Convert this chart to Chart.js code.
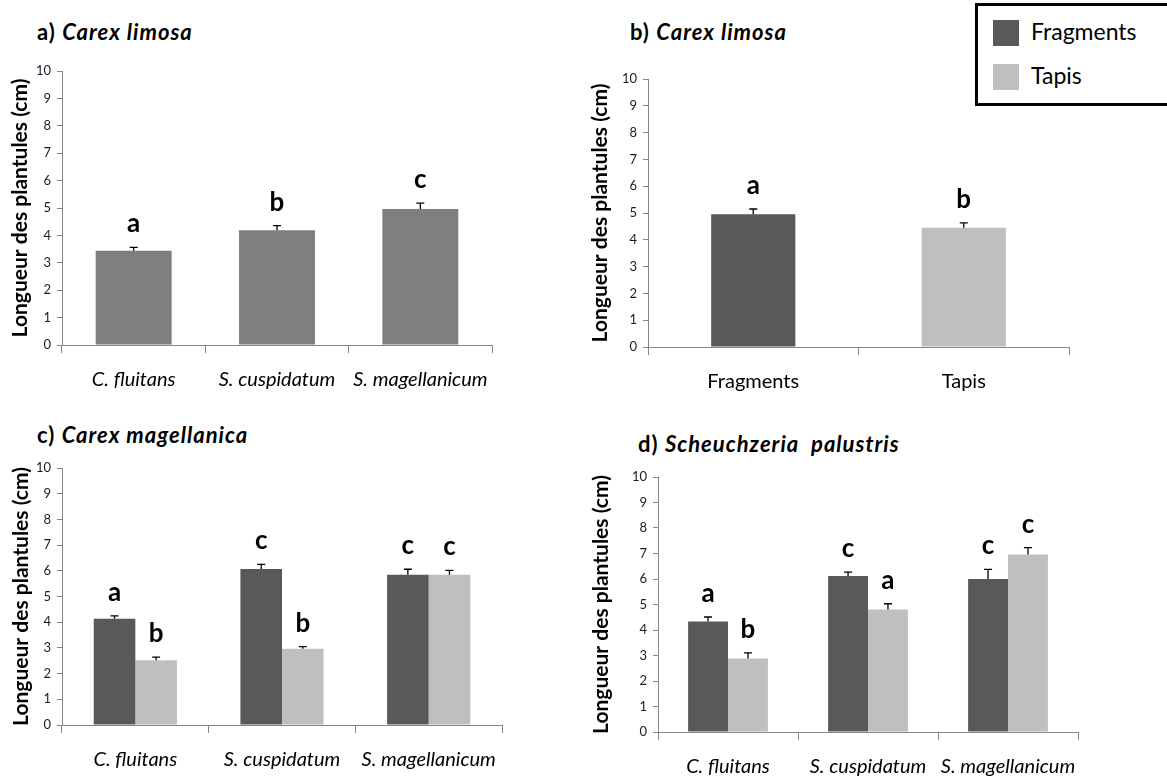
<!DOCTYPE html>
<html>
<head>
<meta charset="utf-8">
<script src="https://cdn.jsdelivr.net/npm/chart.js@4/dist/chart.umd.min.js"></script>
<style>
    body { margin: 0; width: 1167px; height: 776px; background: #fff; position: relative; overflow: hidden; font-family: Lato, sans-serif; }
    canvas { position: absolute; }
    .title { position: absolute; font-weight: bold; font-size: 22px; letter-spacing: 1px; line-height: 22px; color: #000; white-space: nowrap; }
    .legend { position: absolute; left: 975px; top: 3px; width: 210px; height: 97px; border: 3px solid #000; }
    .legend div { position: absolute; left: 15px; width: 26px; height: 26px; }
    .legend span { position: absolute; left: 53px; font-size: 23px; line-height: 26px; color: #000; }
</style>
</head>
<body>
<div class="title" style="left:37px;top:21px">a) <i>Carex limosa</i></div>
<div class="title" style="left:630px;top:21px">b) <i>Carex limosa</i></div>
<div class="title" style="left:37px;top:424px">c) <i>Carex magellanica</i></div>
<div class="title" style="left:638px;top:433px">d) <i style="word-spacing:6px">Scheuchzeria palustris</i></div>
<div class="legend" id="legend"></div>

<canvas id="chartA" width="560" height="350" style="left:0;top:50px"></canvas>
<canvas id="chartB" width="520" height="350" style="left:580px;top:50px"></canvas>
<canvas id="chartC" width="560" height="326" style="left:0;top:450px"></canvas>
<canvas id="chartD" width="587" height="316" style="left:580px;top:460px"></canvas>

<script>
// Categories
var species = ["C. fluitans", "S. cuspidatum", "S. magellanicum"];
var treatments = ["Fragments", "Tapis"];
var yTitle = "Longueur des plantules (cm)";

// a) Carex limosa, by moss species
var aMeans = [3.44, 4.19, 4.96];
var aErrors = [0.12, 0.17, 0.22];
var aLetters = ["a", "b", "c"];

// b) Carex limosa, by treatment
var bMeans = [4.95, 4.45];
var bErrors = [0.20, 0.18];
var bLetters = ["a", "b"];

// c) Carex magellanica
var cFragments = [4.13, 6.07, 5.85];
var cFragErrors = [0.12, 0.18, 0.21];
var cFragLetters = ["a", "c", "c"];
var cTapis = [2.52, 2.97, 5.85];
var cTapisErrors = [0.12, 0.08, 0.17];
var cTapisLetters = ["b", "b", "c"];

// d) Scheuchzeria palustris
var dFragments = [4.33, 6.12, 6.00];
var dFragErrors = [0.18, 0.15, 0.38];
var dFragLetters = ["a", "c", "c"];
var dTapis = [2.88, 4.80, 6.96];
var dTapisErrors = [0.22, 0.23, 0.27];
var dTapisLetters = ["b", "a", "c"];

var darkGrey = "#595959";
var lightGrey = "#bfbfbf";
var midGrey = "#7f7f7f";
var axisGrey = "#868686";

// legend box
var legendBox = document.getElementById("legend");
[darkGrey, lightGrey].forEach(function (col, i) {
    var sw = document.createElement("div");
    sw.style.background = col;
    sw.style.top = (14 + i * 44) + "px";
    legendBox.appendChild(sw);
    var txt = document.createElement("span");
    txt.textContent = treatments[i];
    txt.style.top = (12 + i * 44) + "px";
    legendBox.appendChild(txt);
});

// upper error whisker + significance letter above each bar
var errorBars = {
    id: "errorBars",
    afterDatasetsDraw: function (chart) {
        var ctx = chart.ctx;
        var yScale = chart.scales.y;
        chart.data.datasets.forEach(function (ds, i) {
            chart.getDatasetMeta(i).data.forEach(function (bar, j) {
                var top = yScale.getPixelForValue(ds.data[j] + ds.errors[j]);
                ctx.save();
                ctx.strokeStyle = "#000";
                ctx.lineWidth = 1.3;
                ctx.beginPath();
                ctx.moveTo(bar.x, bar.y);
                ctx.lineTo(bar.x, top);
                ctx.moveTo(bar.x - 4, top);
                ctx.lineTo(bar.x + 4, top);
                ctx.stroke();
                ctx.fillStyle = "#000";
                ctx.font = "bold 26px Lato";
                ctx.textAlign = "center";
                ctx.textBaseline = "alphabetic";
                ctx.fillText(ds.letters[j], bar.x, top - 15);
                ctx.restore();
            });
        });
    }
};

function makeChart(id, labels, datasets, o) {
    return new Chart(document.getElementById(id), {
        type: "bar",
        data: { labels: labels, datasets: datasets },
        plugins: [errorBars],
        options: {
            responsive: false,
            animation: false,
            layout: { padding: { top: o.top, right: o.right, left: 0, bottom: 0 } },
            datasets: { bar: { categoryPercentage: o.cat, barPercentage: o.bar } },
            plugins: { legend: { display: false }, tooltip: { enabled: false } },
            scales: {
                x: {
                    grid: { drawOnChartArea: false, color: axisGrey, tickLength: 8 },
                    border: { color: axisGrey },
                    ticks: { color: "#000", padding: 15, font: { family: "Lato", size: 20, style: o.italic ? "italic" : "normal" }, maxRotation: 0, autoSkip: false },
                    afterFit: function (s) { s.height = o.xh; }
                },
                y: {
                    min: 0, max: 10,
                    grid: { drawOnChartArea: false, color: axisGrey, tickLength: 5 },
                    border: { color: axisGrey },
                    ticks: { stepSize: 1, color: "#1a1a2e", padding: 6, font: { family: "Lato", size: 13 } },
                    title: { display: true, text: yTitle, color: "#000", padding: { top: o.tp, bottom: 0 }, font: { family: "Lato", size: 21, weight: "bold" } },
                    afterFit: function (s) { s.width = o.yw; }
                }
            }
        }
    });
}

makeChart("chartA", species, [
    { data: aMeans, errors: aErrors, letters: aLetters, backgroundColor: midGrey }
], { top: 21, right: 68, yw: 62, xh: 55, cat: 1, bar: 0.53, italic: true, tp: 8 });

makeChart("chartB", treatments, [
    { data: bMeans, errors: bErrors, letters: bLetters, backgroundColor: [darkGrey, lightGrey] }
], { top: 29, right: 31, yw: 68, xh: 53, cat: 1, bar: 0.40, italic: false, tp: 8 });

makeChart("chartC", species, [
    { label: treatments[0], data: cFragments, errors: cFragErrors, letters: cFragLetters, backgroundColor: darkGrey },
    { label: treatments[1], data: cTapis, errors: cTapisErrors, letters: cTapisLetters, backgroundColor: lightGrey }
], { top: 18, right: 58, yw: 62, xh: 51, cat: 0.567, bar: 1, italic: true, tp: 9 });

makeChart("chartD", species, [
    { label: treatments[0], data: dFragments, errors: dFragErrors, letters: dFragLetters, backgroundColor: darkGrey },
    { label: treatments[1], data: dTapis, errors: dTapisErrors, letters: dTapisLetters, backgroundColor: lightGrey }
], { top: 17, right: 89, yw: 78, xh: 44, cat: 0.57, bar: 1, italic: true, tp: 9 });
</script>
</body>
</html>
